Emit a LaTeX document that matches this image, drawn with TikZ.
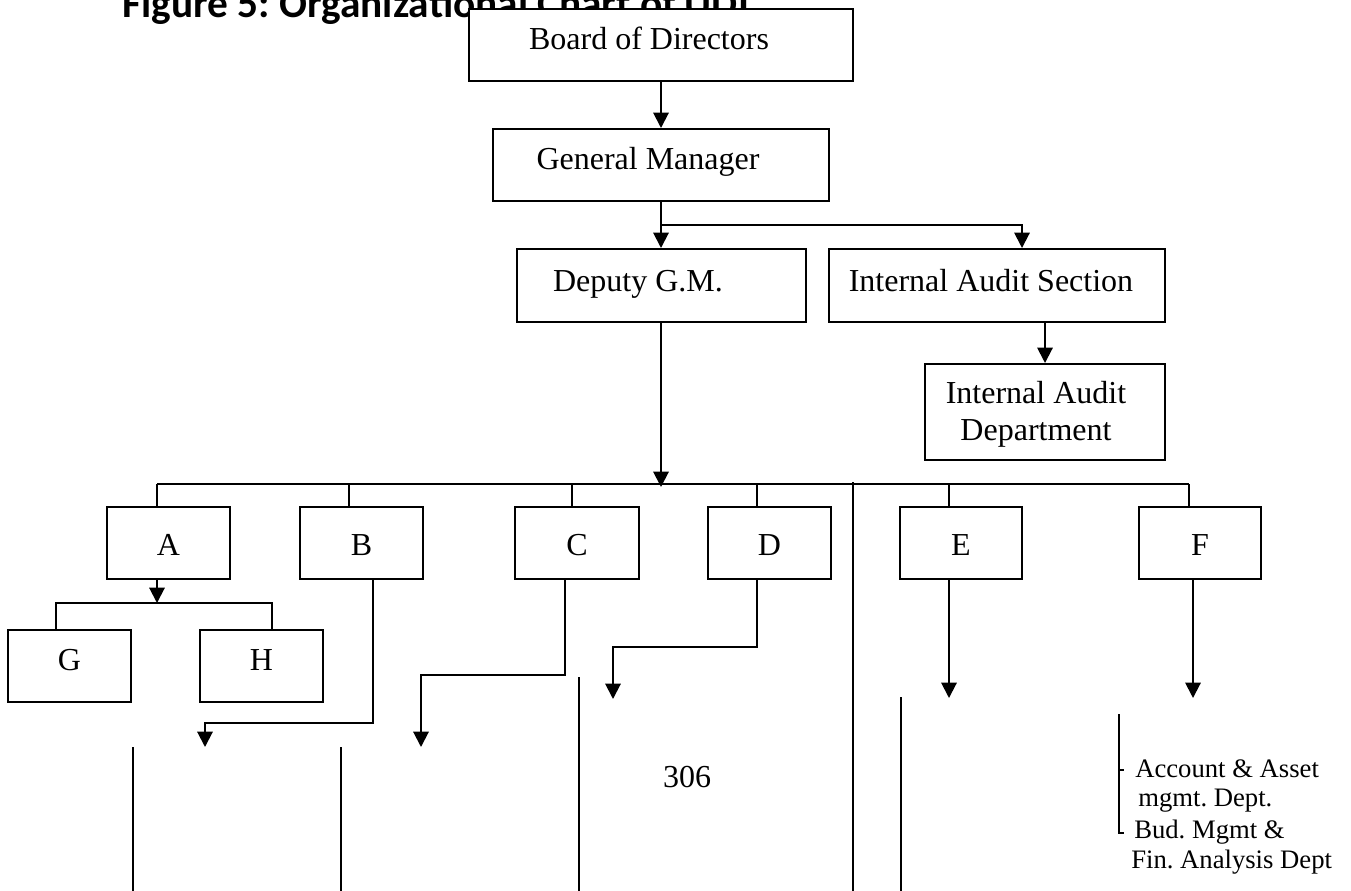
\documentclass[tikz,border=0pt]{standalone}
\usepackage{fontspec}
\setmainfont{Liberation Serif}
\newfontfamily\titlefam{Carlito}
\usetikzlibrary{arrows.meta,fit,calc}
\frenchspacing

\begin{document}
\begin{tikzpicture}[x=0.75pt,y=-0.75pt,
  line/.style={line width=1.5pt},
  stray/.style={line width=1.2pt},
  arr/.style={line width=1.5pt,-{Triangle[length=11.5pt,width=11.5pt]}},
  box/.style={draw,line width=1.5pt,fill=white,inner sep=0pt},
  lbl/.style={anchor=base,inner sep=0pt,font=\fontsize{24}{28}\selectfont},
  small/.style={anchor=base west,inner sep=0pt,font=\fontsize{20}{24}\selectfont}]
\useasboundingbox (0,0) rectangle (1351,891);

% heading (partly hidden behind the top box)
\node[anchor=base west,inner sep=0pt,font=\titlefam\bfseries\fontsize{31}{36}\selectfont]
  (title) at (122,18) {Figure 5: Organizational Chart of UDI};

% upper boxes
\node[box,fit={(469,9) (853,81)}]    (bod) {};
\node[box,fit={(493,129) (829,201)}] (gm)  {};
\node[box,fit={(517,249) (806,322)}] (dgm) {};
\node[box,fit={(829,249) (1165,322)}] (ias) {};
\node[box,fit={(925,364) (1165,460)}] (iad) {};

\node[lbl] (bodT) at (649,50)  {Board of Directors};
\node[lbl] (gmT)  at (648,170) {General Manager};
\node[lbl] (dgmT) at (638,291) {Deputy G.M.};
\node[lbl] (iasT) at (991,291) {Internal Audit Section};
\node[lbl] (iadT1) at (1036,403) {Internal Audit};
\node[lbl] (iadT2) at (1036,440) {Department};

% department boxes
\node[box,fit={(107,507) (230,579)}]  (a) {};
\node[box,fit={(300,507) (423,579)}]  (b) {};
\node[box,fit={(515,507) (639,579)}]  (c) {};
\node[box,fit={(708,507) (831,579)}]  (d) {};
\node[box,fit={(900,507) (1022,579)}] (e) {};
\node[box,fit={(1139,507) (1261,579)}] (f) {};
\node[box,fit={(8,630) (131,702)}]    (g) {};
\node[box,fit={(200,630) (323,702)}]  (h) {};

\foreach \n/\t in {a/A,b/B,c/C,d/D,e/E,f/F}
  \node[lbl] (\n T) at ($(\n.center)+(0,12)$) {\t};
\foreach \n/\t in {g/G,h/H}
  \node[lbl] (\n T) at ($(\n.center)+(0,4)$) {\t};

% top of the hierarchy
\draw[arr] (bod.south) -- (gm.north);
\coordinate (gmj) at (661,225);
\coordinate (iasX) at (1022,0);
\draw[line] (gm.south) -- (gmj);
\draw[arr] (gmj) -- (gmj |- dgm.north);
\draw[arr] (gmj) -| (ias.north -| iasX);
\coordinate (iadX) at (1045,0);
\draw[arr] (ias.south -| iadX) -- (iad.north -| iadX);

% main distribution line
\coordinate (busM) at (661,487);
\draw[arr] (busM |- dgm.south) -- (busM);
\foreach \n/\x in {a/157,b/349,c/572,d/757,e/949,f/1189}{
  \coordinate (t\n) at (\x,484);
  \draw[line] (t\n) -- (t\n |- \n.north);
}
\draw[line] (ta) -- (tf);

% A to G and H
\coordinate (ghj) at (157,603);
\coordinate (gl) at (56,603);
\coordinate (hr) at (272,603);
\draw[arr] (ta |- a.south) -- (ghj);
\draw[line] (g.north -| gl) -- (gl) -- (hr) -- (h.north -| hr);

% open-ended branches
\coordinate (bB) at (373,723); \coordinate (bE) at (205,747);
\draw[arr] (b.south -| bB) -- (bB) -| (bE);
\coordinate (cB) at (565,675); \coordinate (cE) at (421,747);
\draw[arr] (c.south -| cB) -- (cB) -| (cE);
\coordinate (dB) at (757,647); \coordinate (dE) at (613,699);
\draw[arr] (d.south -| dB) -- (dB) -| (dE);
\coordinate (eE) at (949,698);
\draw[arr] (e.south -| eE) -- (eE);
\coordinate (fE) at (1193,698);
\draw[arr] (f.south -| fE) -- (fE);

% loose vertical rules
\draw[stray] (133,747) -- (133,891);
\draw[stray] (341,747) -- (341,891);
\draw[stray] (579,677) -- (579,891);
\draw[stray] (853,482) -- (853,891);
\draw[stray] (901,697) -- (901,891);
\draw[stray] (1119,714) -- (1119,833) -- (1124,833);
\draw[stray] (1119,770) -- (1124,770);

% page number and units under F
\node[lbl] (page) at (687,787) {306};
\node[small] (u1) at (1135,777) {Account \& Asset};
\node[small] (u2) at (1138,806) {mgmt. Dept.};
\node[small] (u3) at (1134,838) {Bud. Mgmt \&};
\node[small] (u4) at (1131,868) {Fin. Analysis Dept};
\end{tikzpicture}
\end{document}
